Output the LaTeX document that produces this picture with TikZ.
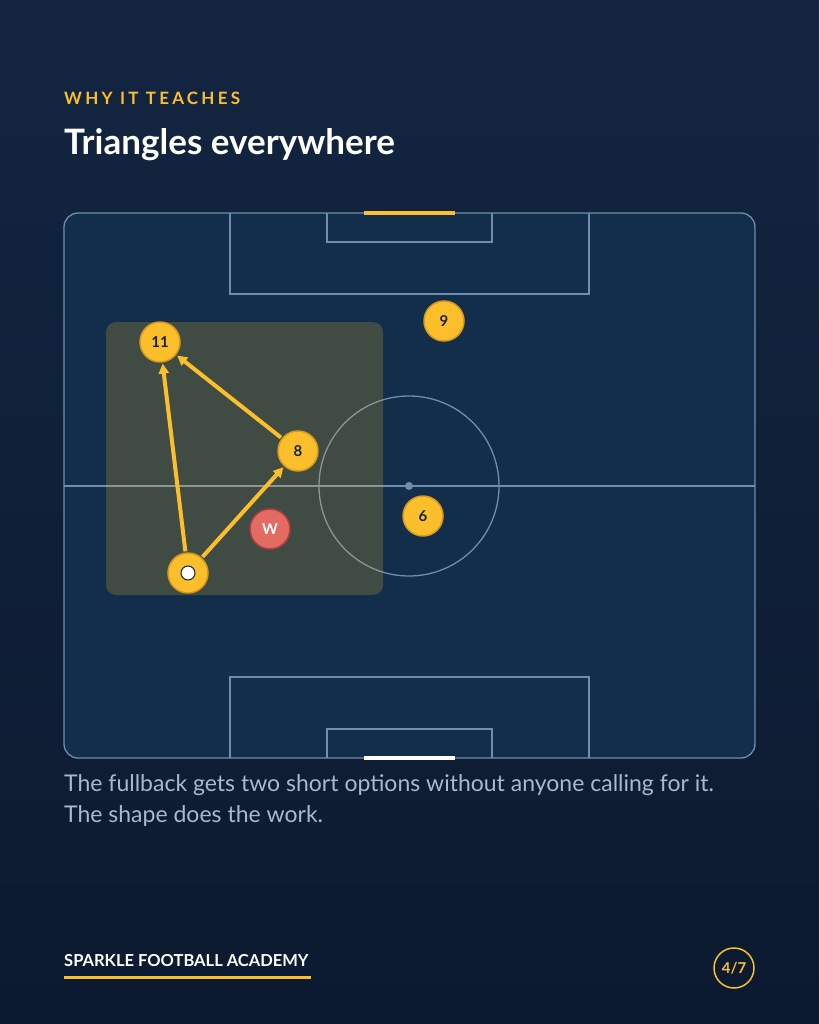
\documentclass[tikz,border=0pt]{standalone}
\usepackage{fontspec}
\setmainfont{Lato}
\usetikzlibrary{positioning, arrows.meta}

\definecolor{bgTop}{HTML}{132540}
\definecolor{bgBot}{HTML}{0C1A30}
\definecolor{pitchBlue}{HTML}{122E4A}
\definecolor{lineBlue}{HTML}{6F8DB0}
\definecolor{sunYellow}{HTML}{FBBF2B}
\definecolor{sunEdge}{HTML}{D8981C}
\definecolor{ink}{HTML}{16233A}
\definecolor{foeRed}{HTML}{E36B62}
\definecolor{foeEdge}{HTML}{A8413B}
\definecolor{capGrey}{HTML}{A9B8CF}

\begin{document}
\begin{tikzpicture}[
    x = 1pt, y = -1pt,
    > = {Triangle[length=10pt, width=10pt]},
    pitchline/.style = {draw = lineBlue, line width = 1.3pt},
    pass/.style      = {draw = sunYellow, line width = 4pt, shorten > = 1pt, shorten < = 1pt},
    player/.style    = {circle, draw = sunEdge, fill = sunYellow, line width = 1.5pt,
                        minimum size = 40pt, inner sep = 0pt, text = ink,
                        font = \bfseries\fontsize{15}{15}\selectfont},
    foe/.style       = {player, draw = foeEdge, fill = foeRed, text = white},
    ball/.style      = {circle, draw = ink, fill = white, line width = 1pt,
                        minimum size = 14pt, inner sep = 0pt},
    pager/.style     = {circle, draw = sunYellow, line width = 1.5pt, minimum size = 40pt,
                        inner sep = 0pt, text = sunYellow,
                        font = \bfseries\fontsize{15}{15}\selectfont},
    caption/.style   = {anchor = base west, inner sep = 0pt, text = capGrey,
                        font = \fontsize{23}{23}\selectfont}
]

% Background
\fill[top color = bgTop, bottom color = bgBot] (0,0) rectangle (819,1024);
\useasboundingbox (0,0) rectangle (819,1024);

% Heading
\node[anchor = base west, inner sep = 0pt, text = sunYellow,
      font = \bfseries\fontsize{17}{17}\selectfont\addfontfeatures{LetterSpace=19}]
      (kicker) at (64,105) {WHY IT TEACHES};
\node[anchor = base west, inner sep = 0pt, text = white,
      font = \bfseries\fontsize{35}{35}\selectfont]
      (title) at (64,155) {Triangles everywhere};

% Pitch
\filldraw[fill = pitchBlue, pitchline, rounded corners = 14pt] (64,213) rectangle (755,758);
\draw[pitchline] (64,486) -- (755,486);
\draw[pitchline] (409,486) circle (90);
\fill[lineBlue] (409,486) circle (4);
\draw[pitchline] (230,213) -- (230,294) -- (589,294) -- (589,213);
\draw[pitchline] (327,213) -- (327,242) -- (492,242) -- (492,213);
\draw[pitchline] (230,758) -- (230,677) -- (589,677) -- (589,758);
\draw[pitchline] (327,758) -- (327,729) -- (492,729) -- (492,758);
\draw[sunYellow, line width = 4pt] (364,213) -- (455,213);
\draw[white, line width = 4pt] (364,758) -- (455,758);

% Zone
\fill[sunYellow, fill opacity = 0.2, rounded corners = 10pt] (106,322) rectangle (383,595);

% Players
\node[player] (p11) at (160,342) {11};
\node[player] (p9)  at (444,321) {9};
\node[player] (p8)  at (298,451) {8};
\node[player] (p6)  at (423,516) {6};
\node[foe]    (w)   at (270,529) {W};
\node[player] (fb)  at (188,573) {};
\node[ball]   (fbBall) at (fb) {};

% Passes
\draw[pass, ->] (fb) -- (p11);
\draw[pass, ->] (fb) -- (p8);
\draw[pass, ->] (p8) -- (p11);

% Caption
\node[caption] (capA) at (64,791) {The fullback gets two short options without anyone calling for it.};
\node[caption] (capB) at (64,822) {The shape does the work.};

% Footer
\node[anchor = base west, inner sep = 0pt, text = white,
      font = \bfseries\fontsize{16.5}{16.5}\selectfont]
      (brand) at (64,966) {SPARKLE FOOTBALL ACADEMY};
\coordinate (lineL) at (64,977);
\coordinate (lineR) at (311,977);
\draw[sunYellow, line width = 3pt] (lineL) -- (lineR);
\node[pager] (page) at (734,968) {4/7};

\end{tikzpicture}
\end{document}
